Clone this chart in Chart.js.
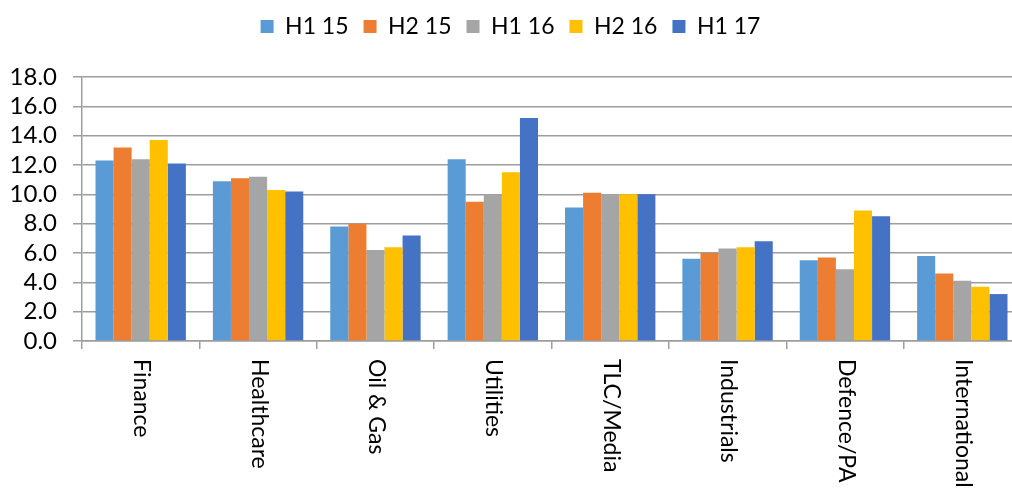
<!DOCTYPE html>
<html>
<head>
<meta charset="utf-8">
<script src="https://cdn.jsdelivr.net/npm/chart.js@4/dist/chart.umd.min.js"></script>
<style>
  html, body { margin: 0; padding: 0; background: #fff; overflow: hidden; }
  #wrap { width: 1021px; height: 494px; }
</style>
</head>
<body>
<div id="wrap"><canvas id="sectorChart" width="1021" height="494"></canvas></div>
<script>
const sectors = ['Finance', 'Healthcare', 'Oil & Gas', 'Utilities', 'TLC/Media', 'Industrials', 'Defence/PA', 'International'];
const seriesNames = ['H1 15', 'H2 15', 'H1 16', 'H2 16', 'H1 17'];
const h1_15 = [12.3, 10.9, 7.8, 12.4, 9.1, 5.6, 5.5, 5.8];
const h2_15 = [13.2, 11.1, 8.0, 9.5, 10.1, 6.0, 5.7, 4.6];
const h1_16 = [12.4, 11.2, 6.2, 10.0, 10.0, 6.3, 4.9, 4.1];
const h2_16 = [13.7, 10.3, 6.4, 11.5, 10.0, 6.4, 8.9, 3.7];
const h1_17 = [12.1, 10.2, 7.2, 15.2, 10.0, 6.8, 8.5, 3.2];
const yTicks = [0, 2, 4, 6, 8, 10, 12, 14, 16, 18];

const colors = ['#5B9BD5', '#ED7D31', '#A5A5A5', '#FFC000', '#4472C4'];
const gridColor = '#9d9d9d';
const fontFamily = 'Lato, "Open Sans", sans-serif';

// Excel style: category labels rotated clockwise, reading top to bottom
const verticalLabels = {
    id: 'verticalLabels',
    afterDraw(chart) {
        const ctx = chart.ctx;
        const xScale = chart.scales.x;
        ctx.save();
        ctx.font = '23px ' + fontFamily;
        ctx.fillStyle = '#000';
        ctx.textAlign = 'left';
        ctx.textBaseline = 'middle';
        sectors.forEach((label, i) => {
            const x = xScale.getPixelForTick(i);
            ctx.save();
            ctx.translate(x + 1, xScale.top + 18);
            ctx.rotate(Math.PI / 2);
            ctx.fillText(label, 0, 0);
            ctx.restore();
        });
        ctx.restore();
    }
};

// leave more room between the legend and the plot
const legendGap = {
    id: 'legendGap',
    beforeInit(chart) {
        const origFit = chart.legend.fit;
        chart.legend.fit = function () {
            origFit.bind(chart.legend)();
            this.height += 29;
        };
    }
};

const dataSets = [h1_15, h2_15, h1_16, h2_16, h1_17].map((values, i) => ({
    label: seriesNames[i],
    data: values,
    backgroundColor: colors[i],
    borderWidth: 0,
    barPercentage: 1.0,
    categoryPercentage: 0.77
}));

new Chart(document.getElementById('sectorChart'), {
    type: 'bar',
    data: { labels: sectors, datasets: dataSets },
    options: {
        responsive: false,
        animation: false,
        layout: { padding: 0 },
        plugins: {
            legend: {
                position: 'top',
                labels: {
                    boxWidth: 13,
                    boxHeight: 13,
                    padding: 15,
                    color: '#000',
                    font: { family: fontFamily, size: 23 }
                }
            },
            tooltip: { enabled: false }
        },
        scales: {
            x: {
                grid: {
                    offset: true,
                    drawOnChartArea: false,
                    color: gridColor,
                    lineWidth: 1.5,
                    tickLength: 8
                },
                border: { color: gridColor, width: 1.5 },
                ticks: { display: false },
                afterFit: scale => { scale.height = 153; }
            },
            y: {
                min: 0,
                max: 18,
                afterBuildTicks: scale => {
                    scale.ticks = yTicks.map(v => ({ value: v }));
                },
                grid: {
                    color: gridColor,
                    lineWidth: 1.5,
                    tickLength: 9
                },
                border: { color: gridColor, width: 1.5 },
                ticks: {
                    color: '#000',
                    padding: 16,
                    autoSkip: false,
                    font: { family: fontFamily, size: 24 },
                    callback: v => Number(v).toFixed(1)
                },
                afterFit: scale => { scale.width = 82; }
            }
        }
    },
    plugins: [verticalLabels, legendGap]
});
</script>
</body>
</html>
